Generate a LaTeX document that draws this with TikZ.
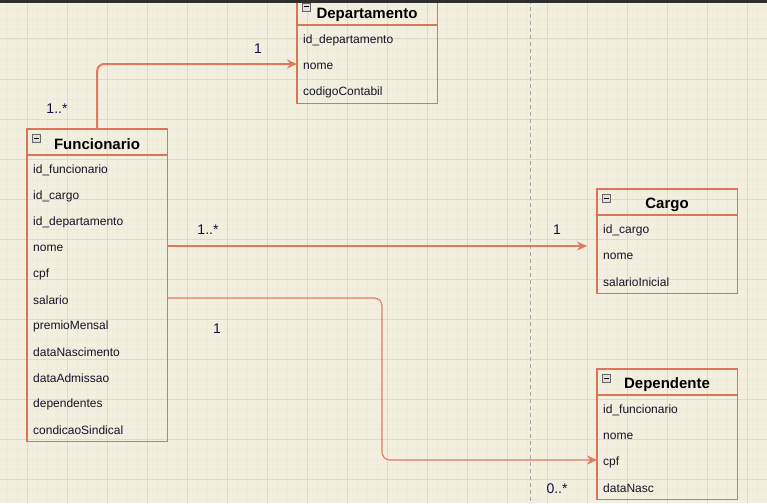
\documentclass[tikz,border=0pt]{standalone}
\usepackage{fontspec}
\setmainfont{Liberation Sans}
\usetikzlibrary{arrows.meta}
\definecolor{bgc}{HTML}{F3EFDF}
\definecolor{gmaj}{HTML}{DEDAC8}
\definecolor{gmin}{HTML}{EEEADA}
\definecolor{linec}{HTML}{E07A5F}
\definecolor{boxc}{HTML}{DC7458}
\definecolor{txtc}{HTML}{141428}
\definecolor{lblc}{HTML}{10104A}
\tikzset{
  box/.style={draw=none, fill=none, anchor=north west, inner sep=0pt, minimum width=140pt},
  hdr/.style={font=\bfseries\fontsize{15}{17}\selectfont, text=black, inner sep=0pt},
  field/.style={font=\fontsize{12}{14}\selectfont, text=txtc, anchor=west, inner sep=0pt},
  lbl/.style={font=\fontsize{14}{16}\selectfont, text=lblc, inner sep=0pt},
  conn/.style={draw=linec, line width=1.1pt, -{Stealth[length=10pt,width=9pt,fill=linec]}},
  mini/.style={draw=gray!80!black, fill=gray!25, line width=0.6pt, minimum size=8pt, inner sep=0pt},
  divl/.style={draw=boxc, line width=1.3pt},
}
\newcommand{\minusicon}[2]{%
  \node[mini] at (#1,#2) {};
  \draw[black, line width=1pt] (#1-2.5,#2) -- (#1+2.5,#2);}
\begin{document}
\begin{tikzpicture}[x=1pt,y=-1pt]
\useasboundingbox (0,0) rectangle (767,503);
\fill[bgc] (0,0) rectangle (767,503);
% grid
\foreach \x in {7,17,...,767} \draw[gmin, line width=0.6pt] (\x,0) -- (\x,503);
\foreach \y in {9,19,...,503} \draw[gmin, line width=0.6pt] (0,\y) -- (767,\y);
\foreach \x in {27,67,...,767} \draw[gmaj, line width=1pt] (\x,0) -- (\x,503);
\foreach \y in {39,79,...,503} \draw[gmaj, line width=1pt] (0,\y) -- (767,\y);
\draw[gray!70, line width=0.8pt, dash pattern=on 4pt off 3pt] (530,0) -- (530,503);

% Departamento
\node[box, minimum height=104pt] (dep) at (297,-1) {};
\draw[divl] (dep.north west) rectangle (dep.south east);
\draw[divl] (297,25) -- (437,25);
\minusicon{306}{7}
\node[hdr] (dep-h) at (367,14.5) {Departamento};
\node[field] (dep-id) at (303,40) {id\_departamento};
\node[field] (dep-nome) at (303,66) {nome};
\node[field] (dep-cod) at (303,92) {codigoContabil};

% Funcionario
\node[box, minimum height=312pt] (fun) at (27,129) {};
\draw[divl] (fun.north west) rectangle (fun.south east);
\draw[divl] (27,155) -- (167,155);
\minusicon{36}{138}
\node[hdr] (fun-h) at (97,144.5) {Funcionario};
\node[field] (fun-id) at (33,170) {id\_funcionario};
\node[field] (fun-cargo) at (33,196) {id\_cargo};
\node[field] (fun-dep) at (33,222) {id\_departamento};
\node[field] (fun-nome) at (33,248) {nome};
\node[field] (fun-cpf) at (33,274) {cpf};
\node[field] (fun-sal) at (33,300) {salario};
\node[field] (fun-prem) at (33,326) {premioMensal};
\node[field] (fun-nasc) at (33,352) {dataNascimento};
\node[field] (fun-adm) at (33,378) {dataAdmissao};
\node[field] (fun-depd) at (33,404) {dependentes};
\node[field] (fun-sind) at (33,430) {condicaoSindical};

% Cargo
\node[box, minimum height=104pt] (car) at (597,189) {};
\draw[divl] (car.north west) rectangle (car.south east);
\draw[divl] (597,215) -- (737,215);
\minusicon{606}{198}
\node[hdr] (car-h) at (667,204.5) {Cargo};
\node[field] (car-id) at (603,230) {id\_cargo};
\node[field] (car-nome) at (603,256) {nome};
\node[field] (car-sal) at (603,282) {salarioInicial};

% Dependente
\node[box, minimum height=130pt] (dpd) at (597,369) {};
\draw[divl] (dpd.north west) rectangle (dpd.south east);
\draw[divl] (597,395) -- (737,395);
\minusicon{606}{378}
\node[hdr] (dpd-h) at (667,384.5) {Dependente};
\node[field] (dpd-id) at (603,410) {id\_funcionario};
\node[field] (dpd-nome) at (603,436) {nome};
\node[field] (dpd-cpf) at (603,462) {cpf};
\node[field] (dpd-nasc) at (603,488) {dataNasc};

% top bar
\fill[black!82] (0,0) rectangle (767,3);

% connectors
\coordinate (c2end) at (587,246);
\coordinate (c3mid) at (382,380);
\draw[conn, line width=2pt, rounded corners=7pt] (fun.north) |- (dep.west |- 0,64);
\draw[conn] (fun.east |- 0,246) -- (c2end);
\draw[conn, rounded corners=8pt] (fun.east |- 0,298) -| (c3mid) |- (dpd.west |- 0,460);

% labels
\node[lbl] (l1) at (57,109) {1..*};
\node[lbl] (l2) at (258,49) {1};
\node[lbl] (l3) at (208,230) {1..*};
\node[lbl] (l4) at (557,230) {1};
\node[lbl] (l5) at (217,329) {1};
\node[lbl] (l6) at (557,489) {0..*};
\end{tikzpicture}
\end{document}
